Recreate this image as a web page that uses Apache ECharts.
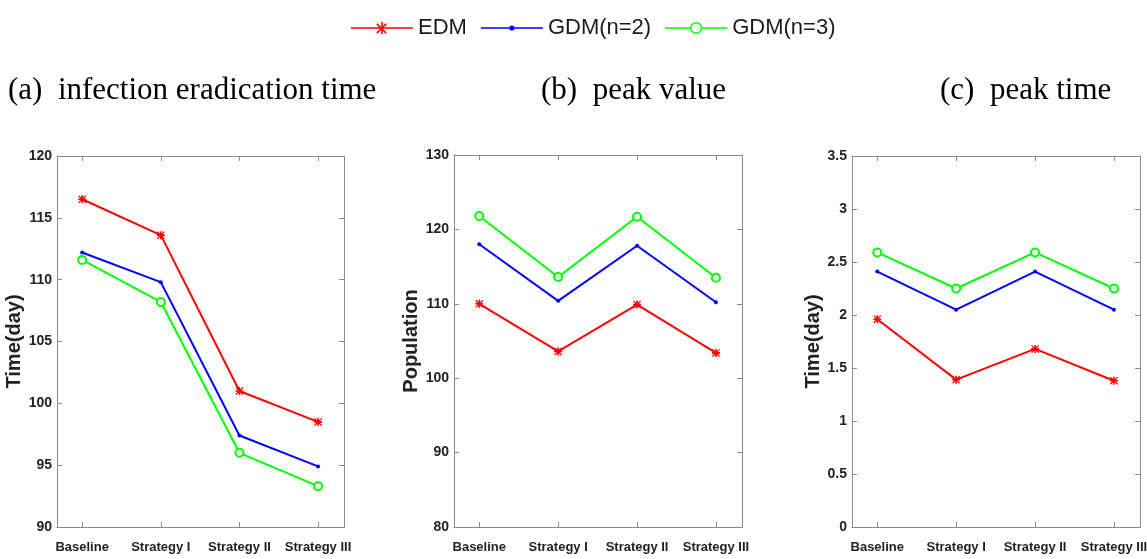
<!DOCTYPE html>
<html>
<head>
<meta charset="utf-8">
<script src="https://cdn.jsdelivr.net/npm/echarts@6/dist/echarts.min.js"></script>
<style>
  html, body { margin: 0; padding: 0; background: #fff; }
  #chart { width: 1147px; height: 559px; }
</style>
</head>
<body>
<div id="chart"></div>
<script>
// Strategy categories shared by all three panels
const categories = ['Baseline', 'Strategy I', 'Strategy II', 'Strategy III'];
const seriesNames = ['EDM', 'GDM(n=2)', 'GDM(n=3)'];

// (a) infection eradication time, days
const eradicationEDM  = [116.5, 113.6, 101.0, 98.5];
const eradicationGDM2 = [112.2, 109.8, 97.4, 94.9];
const eradicationGDM3 = [111.6, 108.2, 96.0, 93.3];

// (b) peak value, population
const peakValueEDM  = [110.0, 103.6, 109.9, 103.4];
const peakValueGDM2 = [118.0, 110.4, 117.8, 110.2];
const peakValueGDM3 = [121.8, 113.6, 121.7, 113.5];

// (c) peak time, days
const peakTimeEDM  = [1.96, 1.39, 1.68, 1.38];
const peakTimeGDM2 = [2.41, 2.05, 2.41, 2.05];
const peakTimeGDM3 = [2.59, 2.25, 2.59, 2.25];

const panelTitles = ['(a)  infection eradication time', '(b)  peak value', '(c)  peak time'];
const yNames = ['Time(day)', 'Population', 'Time(day)'];
const yRanges = [[90, 120, 5], [80, 130, 10], [0, 3.5, 0.5]];

const panelData = [
  [eradicationEDM, eradicationGDM2, eradicationGDM3],
  [peakValueEDM, peakValueGDM2, peakValueGDM3],
  [peakTimeEDM, peakTimeGDM2, peakTimeGDM3]
];

// Layout of the three plot boxes
const grids = [
  { left: 57,  top: 156, width: 287, height: 371 },
  { left: 454, top: 155, width: 288, height: 372 },
  { left: 852, top: 156, width: 288, height: 371 }
];
const nameGaps = [33, 33, 28];
const titleX = [8, 541, 940];

const colors = ['#ff0000', '#0000ff', '#00ff00'];
// MATLAB-style asterisk marker
const asterisk = 'path://M8,0L12,0L12,20L8,20Z M0,8L20,8L20,12L0,12Z M2.2,0L20,17.8L17.8,20L0,2.2Z M17.8,0L20,2.2L2.2,20L0,17.8Z';
const symbols = [asterisk, 'circle', 'emptyCircle'];
const symbolSizes = [8, 4, 8];

// Legend icons: line with its marker, 62 x 14 box
const legendIcons = [
  'path://M0,6.2L62,6.2L62,7.8L0,7.8Z M30.2,1L31.8,1L31.8,13L30.2,13Z M25,6.2L37,6.2L37,7.8L25,7.8Z M26.4,2.3L35.7,11.6L34.6,12.7L25.3,3.4Z M34.6,2.3L35.7,3.4L26.4,12.7L25.3,11.6Z',
  'path://M0,6.2L62,6.2L62,7.8L0,7.8Z M33.6,7A2.6,2.6,0,1,1,28.4,7A2.6,2.6,0,1,1,33.6,7Z',
  'path://M0,6.2L25.2,6.2L25.2,7.8L0,7.8Z M36.8,6.2L62,6.2L62,7.8L36.8,7.8Z M37,7A6,6,0,1,1,25,7A6,6,0,1,1,37,7Z M35.6,7A4.6,4.6,0,1,0,26.4,7A4.6,4.6,0,1,0,35.6,7Z'
];

const boxColor = '#8a8a8a';
const tickFont = { fontFamily: '"Liberation Sans", Arial, sans-serif', fontWeight: 'bold', color: '#222' };
const xIdx = [0, 1, 2, 3];

const xAxis = [], yAxis = [], series = [];
grids.forEach((g, p) => {
  // bottom category axis (value scale so the box has margins beyond the first/last category)
  xAxis.push({
    type: 'value', gridIndex: p, min: -0.32, max: 3.33, position: 'bottom',
    axisLine: { show: true, onZero: false, lineStyle: { color: boxColor, width: 1 } },
    axisTick: { show: true, inside: true, length: 5, customValues: xIdx, lineStyle: { color: boxColor } },
    axisLabel: { show: true, customValues: xIdx, margin: 14, hideOverlap: false, fontSize: 13,
                 formatter: v => categories[Math.round(v)], ...tickFont },
    splitLine: { show: false }
  });
  // top edge of the box
  xAxis.push({
    type: 'value', gridIndex: p, min: -0.32, max: 3.33, position: 'top',
    axisLine: { show: true, onZero: false, lineStyle: { color: boxColor, width: 1 } },
    axisTick: { show: true, inside: true, length: 5, customValues: xIdx, lineStyle: { color: boxColor } },
    axisLabel: { show: false },
    splitLine: { show: false }
  });
  const [mn, mx, iv] = yRanges[p];
  yAxis.push({
    type: 'value', gridIndex: p, min: mn, max: mx, interval: iv, position: 'left',
    name: yNames[p], nameLocation: 'middle', nameRotate: 90, nameGap: nameGaps[p],
    nameTextStyle: { fontFamily: '"Liberation Sans", Arial, sans-serif', fontWeight: 'bold', fontSize: 20, color: '#222' },
    axisLine: { show: true, onZero: false, lineStyle: { color: boxColor, width: 1 } },
    axisTick: { show: true, inside: true, length: 5, lineStyle: { color: boxColor } },
    axisLabel: { show: true, margin: 5, fontSize: 14, ...tickFont },
    splitLine: { show: false }
  });
  // right edge of the box
  yAxis.push({
    type: 'value', gridIndex: p, min: mn, max: mx, interval: iv, position: 'right',
    axisLine: { show: true, onZero: false, lineStyle: { color: boxColor, width: 1 } },
    axisTick: { show: true, inside: true, length: 5, lineStyle: { color: boxColor } },
    axisLabel: { show: false },
    splitLine: { show: false }
  });
  panelData[p].forEach((vals, s) => {
    series.push({
      type: 'line', name: seriesNames[s],
      xAxisIndex: p * 2, yAxisIndex: p * 2,
      data: vals.map((v, i) => [i, v]),
      symbol: symbols[s], symbolSize: symbolSizes[s], symbolKeepAspect: true,
      showAllSymbol: true,
      lineStyle: { color: colors[s], width: 2 },
      itemStyle: { color: colors[s], borderColor: colors[s], borderWidth: s === 2 ? 1.5 : 0 },
      emphasis: { disabled: true },
      animation: false
    });
  });
});

const chart = echarts.init(document.getElementById('chart'), null, { renderer: 'canvas' });
chart.setOption({
  backgroundColor: '#fff',
  animation: false,
  legend: {
    data: seriesNames.map((n, i) => ({ name: n, icon: legendIcons[i], itemStyle: { color: colors[i], borderWidth: 0 } })),
    left: 346, top: 12,
    itemWidth: 62, itemHeight: 14, itemGap: 14,
    itemStyle: { borderWidth: 0 },
    textStyle: { fontFamily: '"Liberation Sans", Arial, sans-serif', fontSize: 22, color: '#1a1a1a', padding: [0, 0, 0, 0] },
    selectedMode: false
  },
  graphic: panelTitles.map((t, i) => ({
    type: 'text', x: titleX[i], y: 91,
    style: { text: t, font: '31px "Liberation Serif", "Times New Roman", serif', fill: '#000', verticalAlign: 'middle' }
  })),
  grid: grids.map(g => ({ ...g, containLabel: false, outerBoundsMode: 'none' })),
  xAxis, yAxis, series
});
</script>
</body>
</html>
